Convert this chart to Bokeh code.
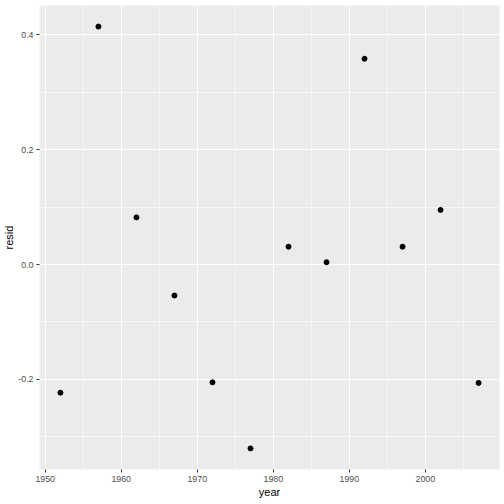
from bokeh.plotting import figure
from bokeh.models import FixedTicker, Range1d
from bokeh.embed import file_html
from bokeh.resources import INLINE

years = [1952, 1957, 1962, 1967, 1972, 1977, 1982, 1987, 1992, 1997, 2002, 2007]
resid = [-0.223, 0.414, 0.082, -0.054, -0.205, -0.320, 0.031, 0.004, 0.358, 0.031, 0.095, -0.206]

x_ticks = [1950, 1960, 1970, 1980, 1990, 2000]
x_minor = [1955, 1965, 1975, 1985, 1995, 2005]
y_ticks = [-0.2, 0.0, 0.2, 0.4]
y_minor = [-0.3, -0.1, 0.1, 0.3]
y_labels = ["-0.2", "0.0", "0.2", "0.4"]

xpad = (max(years) - min(years)) * 0.05
ypad = (max(resid) - min(resid)) * 0.05

p = figure(width=500, height=500, output_backend="svg", toolbar_location=None,
           x_range=Range1d(min(years) - xpad, max(years) + xpad),
           y_range=Range1d(min(resid) - ypad, max(resid) + ypad),
           min_border_left=39, min_border_right=1, min_border_top=5, min_border_bottom=31)

p.background_fill_color = "#EBEBEB"
p.border_fill_color = "white"
p.outline_line_color = None

p.xaxis.ticker = FixedTicker(ticks=x_ticks, minor_ticks=x_minor)
p.yaxis.ticker = FixedTicker(ticks=y_ticks, minor_ticks=y_minor)
p.yaxis.major_label_overrides = {t: l for t, l in zip(y_ticks, y_labels)}

for g in (p.xgrid, p.ygrid):
    g.grid_line_color = "white"
    g.grid_line_width = 1.1
    g.minor_grid_line_color = "white"
    g.minor_grid_line_width = 0.55

for ax in (p.xaxis, p.yaxis):
    ax.axis_line_color = None
    ax.major_tick_line_color = "#333333"
    ax.major_tick_in = 0
    ax.major_tick_out = 3
    ax.minor_tick_line_color = None
    ax.major_label_text_font = "Liberation Sans"
    ax.major_label_text_font_size = "8.8px"
    ax.major_label_text_color = "#4D4D4D"
    ax.axis_label_text_font = "Liberation Sans"
    ax.axis_label_text_font_size = "11px"
    ax.axis_label_text_font_style = "normal"
    ax.axis_label_text_color = "black"

p.xaxis.axis_label = "year"
p.yaxis.axis_label = "resid"
p.xaxis.major_label_standoff = 2
p.xaxis.axis_label_standoff = 1
p.yaxis.major_label_standoff = 2
p.yaxis.axis_label_standoff = 0

p.scatter(years, resid, size=5, color="black")

open("out.html", "w").write(file_html(p, INLINE))
